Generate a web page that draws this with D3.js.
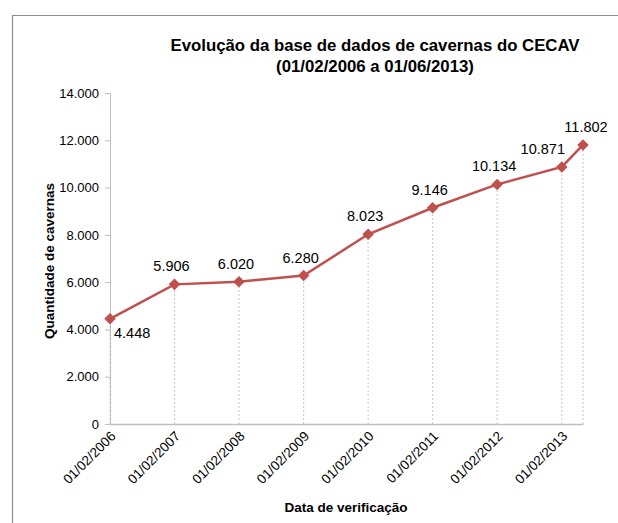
<!DOCTYPE html>
<html>
<head>
<meta charset="utf-8">
<script src="https://cdn.jsdelivr.net/npm/d3@7/dist/d3.min.js"></script>
<style>
  body { margin: 0; background: #fff; }
  svg, svg text { font-family: "Liberation Sans", Arial, sans-serif; }
</style>
</head>
<body>
<svg id="chart" width="618" height="523"></svg>
<script>
// dados
var dates = ["01/02/2006", "01/02/2007", "01/02/2008", "01/02/2009", "01/02/2010",
             "01/02/2011", "01/02/2012", "01/02/2013", "01/06/2013"];
var cavernas = [4448, 5906, 6020, 6280, 8023, 9146, 10134, 10871, 11802];
var yTicks = [0, 2000, 4000, 6000, 8000, 10000, 12000, 14000];
var xTickLabels = ["01/02/2006", "01/02/2007", "01/02/2008", "01/02/2009",
                   "01/02/2010", "01/02/2011", "01/02/2012", "01/02/2013"];

var parse = d3.timeParse("%d/%m/%Y");
var fmtDate = d3.timeFormat("%d/%m/%Y");
var fmtNum = function (v) { return d3.format(",")(v).replace(/,/g, "."); };

var data = dates.map(function (d, i) { return { date: parse(d), value: cavernas[i] }; });

var svg = d3.select("#chart");
var lineColor = "#c0504d";
var axisColor = "#bfbfbf";

// moldura
svg.append("path")
    .attr("d", "M12.5,523 V15.5 H618")
    .attr("fill", "none")
    .attr("stroke", "#8c8c8c")
    .attr("stroke-width", 1.2);

var x = d3.scaleTime()
    .domain(d3.extent(data, function (d) { return d.date; }))
    .range([110, 583]);
var y = d3.scaleLinear()
    .domain([0, 14000])
    .range([424, 93]);

// linhas de queda
svg.append("g").selectAll("line")
    .data(data)
    .enter()
    .append("line")
    .attr("x1", function (d) { return x(d.date); })
    .attr("x2", function (d) { return x(d.date); })
    .attr("y1", y(0))
    .attr("y2", function (d) { return y(d.value); })
    .attr("stroke", "#c8c8c8")
    .attr("stroke-dasharray", "2,2");

// eixo y
var yAxis = d3.axisLeft(y)
    .tickValues(yTicks)
    .tickSize(5)
    .tickPadding(6)
    .tickFormat(fmtNum);
var gy = svg.append("g")
    .attr("transform", "translate(110,0)")
    .call(yAxis)
    .attr("font-family", null);
gy.select(".domain").attr("stroke", axisColor);
gy.selectAll(".tick line").attr("stroke", axisColor);
gy.selectAll(".tick text").attr("font-size", 13).attr("fill", "#000");

// eixo x
var xAxis = d3.axisBottom(x)
    .tickValues(xTickLabels.map(parse))
    .tickSize(0)
    .tickFormat(fmtDate);
var gx = svg.append("g")
    .attr("transform", "translate(0,424)")
    .call(xAxis)
    .attr("font-family", null);
gx.select(".domain").attr("stroke", axisColor).attr("stroke-width", 1.5);
gx.selectAll(".tick text")
    .attr("font-size", 13.5)
    .attr("fill", "#000")
    .attr("text-anchor", "end")
    .attr("dy", null)
    .attr("y", 0)
    .attr("transform", "translate(6,13) rotate(-45)");

// linha
var line = d3.line()
    .x(function (d) { return x(d.date); })
    .y(function (d) { return y(d.value); });
svg.append("path")
    .attr("d", line(data))
    .attr("fill", "none")
    .attr("stroke", lineColor)
    .attr("stroke-width", 2.5);

// marcadores
svg.append("g").selectAll("path")
    .data(data)
    .enter()
    .append("path")
    .attr("d", d3.symbol().type(d3.symbolDiamond2).size(85))
    .attr("transform", function (d) { return "translate(" + x(d.date) + "," + y(d.value) + ")"; })
    .attr("fill", lineColor);

// rotulos de dados
svg.append("g").selectAll("text")
    .data(data)
    .enter()
    .append("text")
    .attr("x", function (d, i) {
        if (i == 0) return x(d.date) + 4;
        if (i == data.length - 2) return x(d.date) - 19;
        if (i == data.length - 1) return x(d.date) + 3;
        return x(d.date) - 3;
    })
    .attr("y", function (d, i) {
        if (i == 0) return y(d.value) + 19;
        return y(d.value) - 13;
    })
    .attr("text-anchor", function (d, i) { return i == 0 ? "start" : "middle"; })
    .attr("font-size", 14.5)
    .attr("fill", "#000")
    .text(function (d) { return fmtNum(d.value); });

// titulo
svg.append("text")
    .attr("x", 375).attr("y", 51)
    .attr("text-anchor", "middle")
    .attr("font-size", 16.8)
    .attr("font-weight", "bold")
    .text("Evolução da base de dados de cavernas do CECAV");
svg.append("text")
    .attr("x", 375).attr("y", 72)
    .attr("text-anchor", "middle")
    .attr("font-size", 16.8)
    .attr("font-weight", "bold")
    .text("(01/02/2006 a 01/06/2013)");

// titulos dos eixos
svg.append("text")
    .attr("transform", "translate(54,261) rotate(-90)")
    .attr("text-anchor", "middle")
    .attr("font-size", 13.5)
    .attr("font-weight", "bold")
    .text("Quantidade de cavernas");
svg.append("text")
    .attr("x", 346).attr("y", 512)
    .attr("text-anchor", "middle")
    .attr("font-size", 13.5)
    .attr("font-weight", "bold")
    .text("Data de verificação");
</script>
</body>
</html>
